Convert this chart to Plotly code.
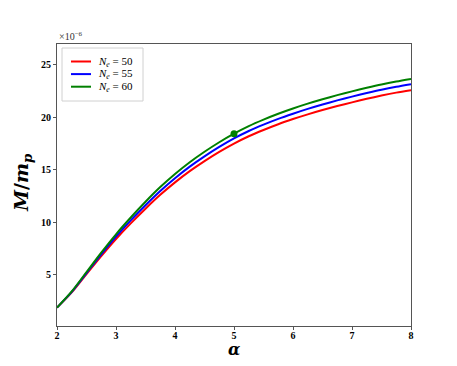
import plotly.graph_objects as go

# alpha grid and M/m_p (in units of 1e-6) for the three N_e values
alpha = [2.0, 2.25, 2.5, 2.75, 3.0, 3.25, 3.5, 3.75, 4.0, 4.25, 4.5, 4.75, 5.0,
         5.25, 5.5, 5.75, 6.0, 6.25, 6.5, 6.75, 7.0, 7.25, 7.5, 7.75, 8.0]

m_ne50 = [1.85, 3.3, 5.05, 6.77, 8.4, 9.89, 11.29, 12.61, 13.8, 14.87, 15.83, 16.71, 17.5,
          18.2, 18.8, 19.35, 19.84, 20.29, 20.7, 21.08, 21.43, 21.77, 22.08, 22.36, 22.6]
m_ne55 = [1.85, 3.35, 5.15, 6.93, 8.62, 10.17, 11.62, 12.98, 14.2, 15.3, 16.28, 17.18, 17.99,
          18.7, 19.31, 19.86, 20.35, 20.81, 21.23, 21.62, 21.98, 22.32, 22.64, 22.92, 23.17]
m_ne60 = [1.85, 3.4, 5.25, 7.1, 8.85, 10.45, 11.95, 13.35, 14.6, 15.72, 16.72, 17.63, 18.45,
          19.17, 19.79, 20.35, 20.85, 21.31, 21.73, 22.12, 22.48, 22.82, 23.14, 23.42, 23.67]

# highlighted point on the N_e = 60 curve
dot_alpha = [5.0]
dot_m = [18.45]

labels = ['<i>N<sub>e</sub></i> = 50', '<i>N<sub>e</sub></i> = 55', '<i>N<sub>e</sub></i> = 60']
colors = ['red', 'blue', 'green']

fig = go.Figure()
for name, vals, color in zip(labels, [m_ne50, m_ne55, m_ne60], colors):
    fig.add_trace(go.Scatter(x=alpha, y=vals, mode='lines', name=name, showlegend=False,
                             line=dict(color=color, width=2, shape='spline', smoothing=0.8)))

fig.add_trace(go.Scatter(x=dot_alpha, y=dot_m, mode='markers', showlegend=False,
                         marker=dict(color='green', size=7)))

axis_style = dict(showline=True, linecolor='#555555', linewidth=1, mirror=True,
                  ticks='outside', ticklen=3, tickcolor='#555555', showgrid=False,
                  zeroline=False,
                  tickfont=dict(family='Liberation Serif', size=10, color='black', weight='bold'))

fig.update_xaxes(range=[2, 8], tickvals=[2, 3, 4, 5, 6, 7, 8], ticklabelstandoff=-3, **axis_style)
fig.update_yaxes(range=[0.1, 27], tickvals=[5, 10, 15, 20, 25], **axis_style)

# plot area in pixels: x 57..411, y 44..326  -> helpers to paper coords
def px(p):
    return (p - 57) / 354.0

def py(p):
    return (326 - p) / 282.0

annotations = []
shapes = []

# y label
annotations.append(dict(xref='paper', yref='paper', x=px(22), y=py(183),
                        xanchor='center', yanchor='middle', textangle=-90,
                        text='<b><i>M</i>/<i>m<sub>p</sub></i></b>',
                        font=dict(family='DejaVu Serif', size=19, color='black'),
                        showarrow=False))
# x label
annotations.append(dict(xref='paper', yref='paper', x=0.5, y=py(349),
                        xanchor='center', yanchor='middle',
                        text='<b><i>α</i></b>',
                        font=dict(family='DejaVu Serif', size=16, color='black'),
                        showarrow=False))
# offset label
annotations.append(dict(xref='paper', yref='paper', x=0.0, y=1.0,
                        xanchor='left', yanchor='bottom',
                        text='×10<sup>−6</sup>',
                        font=dict(family='Liberation Serif', size=10, color='#333333'),
                        showarrow=False))

# legend box (drawn by hand to get matplotlib-like tight spacing)
x0, x1, y0, y1 = px(62), px(143), py(101), py(48)
shapes.append(dict(type='rect', xref='paper', yref='paper', x0=x0, x1=x1, y0=y0, y1=y1,
                   line=dict(color='#d0d0d0', width=1), fillcolor='white', layer='above'))
for i, (name, color) in enumerate(zip(labels, colors)):
    yy = py(61.5 + 12.6 * i)
    shapes.append(dict(type='line', xref='paper', yref='paper', x0=px(71), x1=px(91),
                       y0=yy, y1=yy, line=dict(color=color, width=2), layer='above'))
    annotations.append(dict(xref='paper', yref='paper', x=px(96), y=yy,
                            xanchor='left', yanchor='middle', text=name,
                            font=dict(family='Liberation Serif', size=11, color='black'),
                            showarrow=False))

fig.update_layout(
    width=449, height=358,
    margin=dict(l=49, r=46, t=36, b=40),
    plot_bgcolor='white', paper_bgcolor='white',
    annotations=annotations,
    shapes=shapes,
    showlegend=False,
)

fig.write_html("out.html")
